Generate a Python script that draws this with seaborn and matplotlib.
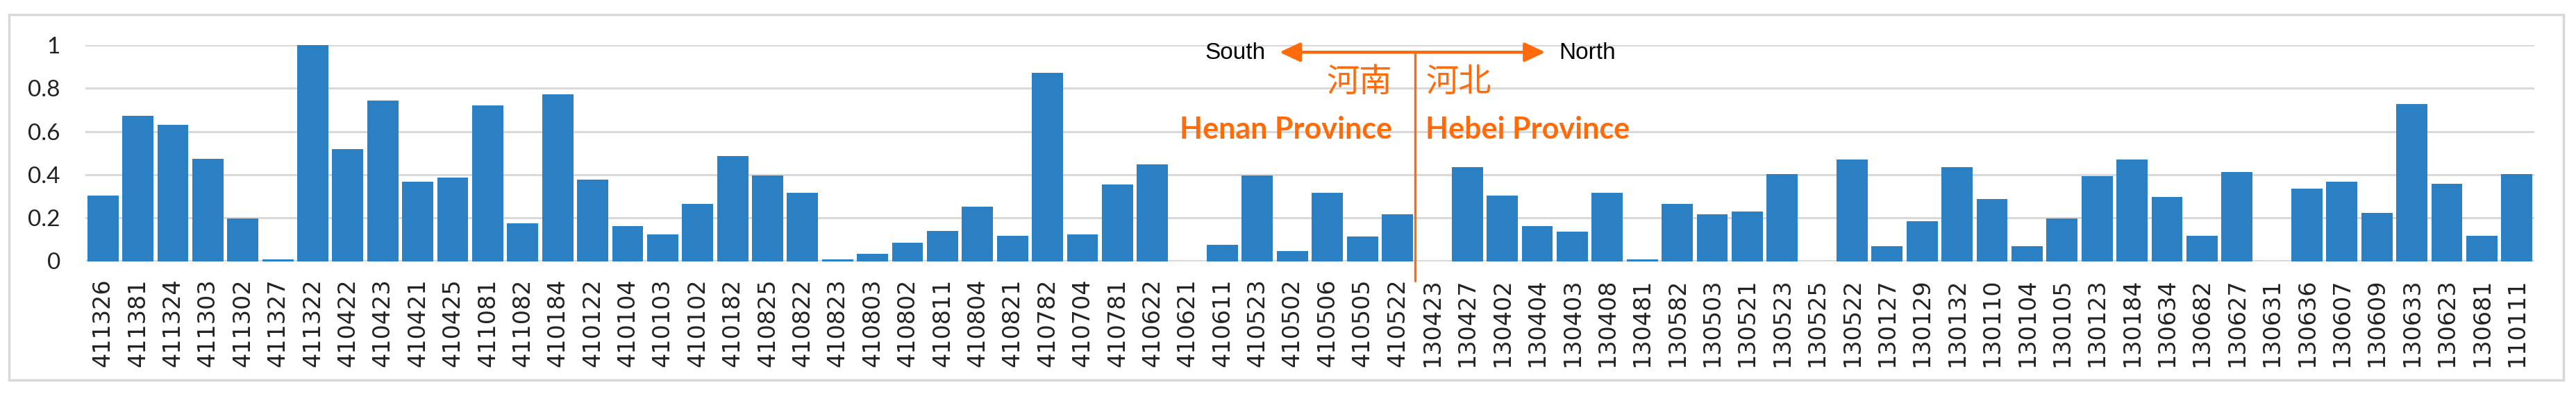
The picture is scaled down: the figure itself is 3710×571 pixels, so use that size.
import matplotlib
matplotlib.use("Agg")
import matplotlib.pyplot as plt
import seaborn as sns
import pandas as pd
from matplotlib.patches import Rectangle

# ---- data ----
henan_codes = ["411326", "411381", "411324", "411303", "411302", "411327", "411322",
               "410422", "410423", "410421", "410425", "411081", "411082", "410184",
               "410122", "410104", "410103", "410102", "410182", "410825", "410822",
               "410823", "410803", "410802", "410811", "410804", "410821", "410782",
               "410704", "410781", "410622", "410621", "410611", "410523", "410502",
               "410506", "410505", "410522"]
henan_values = [0.303, 0.671, 0.632, 0.475, 0.197, 0.008, 1.0,
                0.519, 0.744, 0.366, 0.386, 0.722, 0.175, 0.771,
                0.377, 0.163, 0.124, 0.265, 0.487, 0.398, 0.315,
                0.008, 0.035, 0.085, 0.141, 0.252, 0.118, 0.870,
                0.124, 0.354, 0.448, 0.0, 0.074, 0.398, 0.047,
                0.315, 0.113, 0.218]
hebei_codes = ["130423", "130427", "130402", "130404", "130403", "130408", "130481",
               "130582", "130503", "130521", "130523", "130525", "130522", "130127",
               "130129", "130132", "130110", "130104", "130105", "130123", "130184",
               "130634", "130682", "130627", "130631", "130636", "130607", "130609",
               "130633", "130623", "130681", "110111"]
hebei_values = [0.0, 0.436, 0.303, 0.163, 0.137, 0.315, 0.008,
                0.265, 0.218, 0.230, 0.403, 0.0, 0.470, 0.068,
                0.186, 0.436, 0.286, 0.070, 0.197, 0.393, 0.470,
                0.298, 0.118, 0.414, 0.0, 0.336, 0.366, 0.224,
                0.727, 0.359, 0.118, 0.403]
y_ticks = [0, 0.2, 0.4, 0.6, 0.8, 1.0]
y_tick_labels = ["0", "0.2", "0.4", "0.6", "0.8", "1"]

codes = henan_codes + hebei_codes
values = henan_values + hebei_values
df = pd.DataFrame({"code": codes, "value": values})

BAR = "#2A80C2"
ORANGE = "#FF6A0A"
GRID = "#D9D9D9"

sns.set_theme(style="white")
plt.rcParams["font.family"] = ["DejaVu Sans"]

W, H, DPI = 3710, 571, 100
fig = plt.figure(figsize=(W / DPI, H / DPI), dpi=DPI)
ax = fig.add_axes([123 / W, 1 - 376.5 / H, (3650 - 123) / W, (376.5 - 65) / H])

sns.barplot(data=df, x="code", y="value", order=codes, color=BAR, width=0.89,
            saturation=1, edgecolor="none", ax=ax)

ax.set_xlim(-0.5, len(codes) - 0.5)
ax.set_ylim(0, 1.0)
ax.set_xlabel("")
ax.set_ylabel("")
for s in ax.spines.values():
    s.set_visible(False)
ax.set_yticks(y_ticks)
ax.set_yticklabels(y_tick_labels, fontfamily="Lato", fontsize=24, color="#222222")
ax.yaxis.grid(True, color=GRID, linewidth=2.2)
ax.set_axisbelow(True)
ax.tick_params(axis="y", length=0, pad=26)
ax.tick_params(axis="x", length=0, pad=18, labelsize=24, labelcolor="#222222")
for lbl in ax.get_xticklabels():
    lbl.set_rotation(90)
ax.axhline(0, color=GRID, linewidth=3, zorder=0.5)

# divider and arrow
ax.axvline(37.5, ymin=-0.09, ymax=0.967, color=ORANGE, linewidth=2.4, clip_on=False)
ax.annotate("", xy=(33.63, 0.967), xytext=(41.23, 0.967),
            arrowprops=dict(arrowstyle="<|-|>,head_length=0.6,head_width=0.28",
                            mutation_scale=30, color=ORANGE, lw=3.2,
                            shrinkA=0, shrinkB=0), annotation_clip=False)

ax.text(33.23, 0.936, "South", ha="right", va="baseline", fontsize=24,
        fontfamily="Liberation Sans", color="black")
ax.text(41.62, 0.936, "North", ha="left", va="baseline", fontsize=24,
        fontfamily="Liberation Sans", color="black")
ax.text(36.86, 0.828, "河南", ha="right", va="center", fontsize=34,
        fontfamily=["Noto Sans CJK SC", "DejaVu Sans"], color=ORANGE)
ax.text(37.81, 0.828, "河北", ha="left", va="center", fontsize=34,
        fontfamily=["Noto Sans CJK SC", "DejaVu Sans"], color=ORANGE)
ax.text(36.86, 0.567, "Henan Province", ha="right", va="baseline", fontsize=31,
        fontfamily="Lato", fontweight="bold", color=ORANGE)
ax.text(37.81, 0.567, "Hebei Province", ha="left", va="baseline", fontsize=31,
        fontfamily="Lato", fontweight="bold", color=ORANGE)

# outer frame
fig.patches.append(Rectangle((13 / W, 1 - 548 / H), (3692 - 13) / W, (548 - 21) / H,
                             transform=fig.transFigure, fill=False,
                             edgecolor=GRID, linewidth=2.5))

fig.savefig("out.png", dpi=DPI)
